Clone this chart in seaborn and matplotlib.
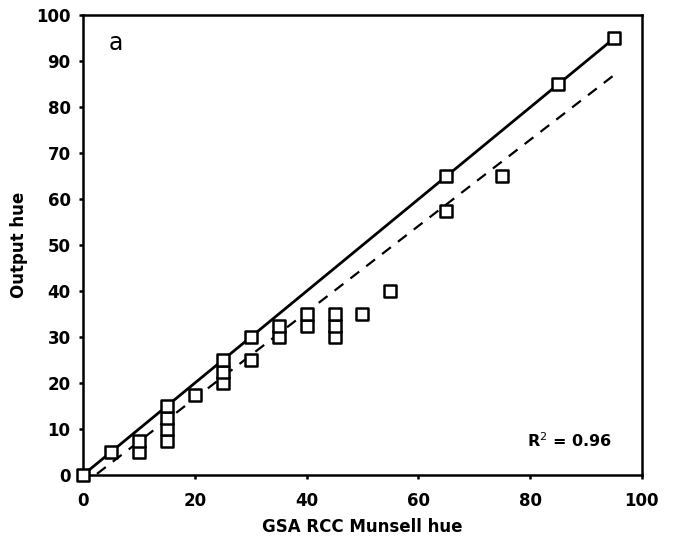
import numpy as np
import pandas as pd
import matplotlib
matplotlib.use('Agg')
import matplotlib.pyplot as plt
import seaborn as sns

# GSA RCC Munsell hue vs output hue
gsa_hue = [0, 5, 10, 10, 15, 15, 15, 15, 20, 25, 25, 25, 30, 30, 35, 35,
           40, 40, 45, 45, 45, 50, 55, 65, 65, 75, 85, 95]
output_hue = [0, 5, 5, 7.5, 7.5, 10, 12.5, 15, 17.5, 20, 22.5, 25, 25, 30, 30, 32.5,
              32.5, 35, 30, 32.5, 35, 35, 40, 57.5, 65, 65, 85, 95]

# 1:1 line and regression line
line_x = [0, 95]
fit_slope = 0.938
fit_intercept = -2.1
fit_x = [2.5, 95]

df = pd.DataFrame({'gsa': gsa_hue, 'out': output_hue})

sns.set_style('ticks')
plt.rcParams['font.family'] = ['DejaVu Sans']
plt.rcParams['text.color'] = 'black'

fig = plt.figure(figsize=(6.75, 5.4), dpi=100)
ax = fig.add_axes([0.123, 0.1204, 0.828, 0.851])

sns.lineplot(x=line_x, y=line_x, color='black', lw=2, ax=ax)
fx = np.array(fit_x)
sns.lineplot(x=fx, y=fit_slope * fx + fit_intercept, color='black', lw=1.6,
             ax=ax, linestyle=(0, (5, 4)))
sns.scatterplot(data=df, x='gsa', y='out', marker='s', s=70, facecolor='white',
                edgecolor='black', linewidth=1.8, ax=ax, zorder=5, clip_on=False)

ax.set_xlim(0, 100)
ax.set_ylim(0, 100)
ax.set_xticks(range(0, 101, 20))
ax.set_yticks(range(0, 101, 10))
for sp in ax.spines.values():
    sp.set_linewidth(1.8)
    sp.set_color('black')
ax.tick_params(direction='out', length=3, width=1.8, colors='black', labelsize=12)
ax.tick_params(axis='x', pad=9)
ax.tick_params(axis='y', pad=6)
for lbl in ax.get_xticklabels() + ax.get_yticklabels():
    lbl.set_fontweight('heavy')

ax.set_xlabel('GSA RCC Munsell hue', fontsize=12, fontweight='heavy', labelpad=6, color='black')
ax.set_ylabel('Output hue', fontsize=12, fontweight='heavy', labelpad=6, color='black')

ax.text(0.058, 0.94, 'a', transform=ax.transAxes, fontsize=17, ha='center', va='center',
        color='black')
ax.text(0.87, 0.075, 'R$^{2}$ = 0.96', transform=ax.transAxes, fontsize=11.5,
        fontweight='heavy', ha='center', va='center', color='black')

fig.savefig('out.png', dpi=100)
